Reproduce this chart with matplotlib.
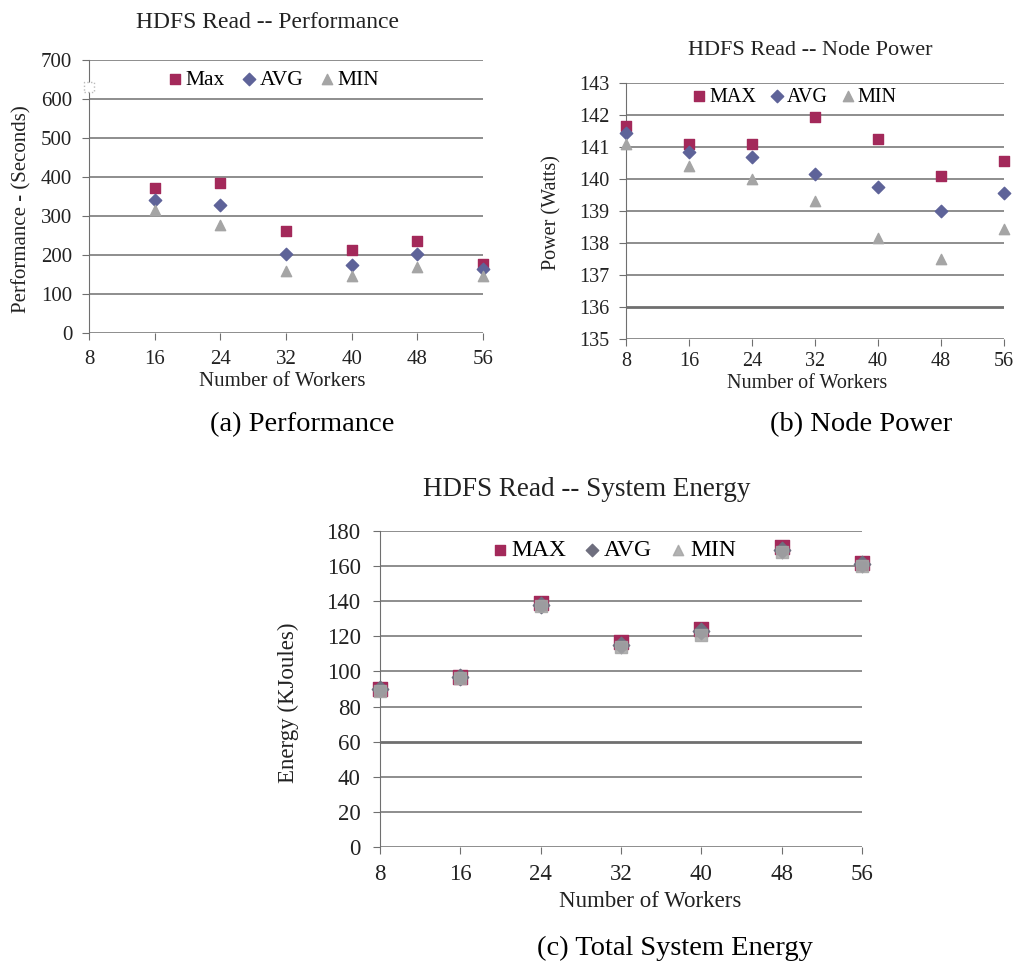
import matplotlib.pyplot as plt

plt.rcParams['font.family'] = ['Liberation Serif', 'DejaVu Serif']

workers = [8, 16, 24, 32, 40, 48, 56]

perf_max = [630, 372, 385, 262, 213, 236, 178]
perf_avg = [630, 340, 327, 203, 175, 203, 165]
perf_min = [630, 315, 278, 160, 145, 170, 145]

power_max = [141.65, 141.1, 141.1, 141.95, 141.25, 140.1, 140.55]
power_avg = [141.45, 140.85, 140.7, 140.15, 139.75, 139.0, 139.55]
power_min = [141.1, 140.4, 140.0, 139.3, 138.15, 137.5, 138.45]

energy_max = [90, 97, 139, 117, 124, 171, 162]
energy_avg = [90, 97, 138, 115, 123, 169, 161]
energy_min = [89, 96, 137, 114, 121, 168, 160]

W, H = 1015, 971
RED = '#A3295A'
BLUE = '#5E6399'
GRAY = '#A5A5A5'
GRID = '#6F6F6F'
TXT = '#222222'

fig = plt.figure(figsize=(W / 100, H / 100), dpi=100)


def make_axes(l, r, t, b):
    return fig.add_axes([l / W, 1 - b / H, (r - l) / W, (b - t) / H])


def style(ax, ylim, yticks, fs, ylabel, ypad, xpad):
    ax.set_xlim(8, 56)
    ax.set_ylim(*ylim)
    ax.set_xticks(workers)
    ax.set_yticks(yticks)
    for s in ['top', 'right', 'bottom']:
        ax.spines[s].set_visible(False)
    ax.spines['left'].set_color(GRID)
    ax.yaxis.grid(True, color=GRID, linewidth=1.1)
    ax.set_axisbelow(True)
    ax.tick_params(axis='both', colors=GRID, labelcolor=TXT, labelsize=fs, length=5)
    ax.tick_params(axis='y', pad=ypad)
    ax.tick_params(axis='x', pad=xpad)
    ax.set_xlabel('Number of Workers', fontsize=fs, color=TXT, va='center')
    ax.set_ylabel(ylabel, fontsize=fs, color=TXT, va='center')


def place(ax, xl, yl, leg_labels, lfs, leg_xy, colsp):
    ax.xaxis.set_label_coords(*xl)
    ax.yaxis.set_label_coords(*yl)
    return ax.legend(leg_labels, loc='center', ncol=3, frameon=False, fontsize=lfs,
                     handletextpad=0.0, columnspacing=colsp, handlelength=1.0,
                     bbox_to_anchor=leg_xy)


# (a) Performance
ax1 = make_axes(89, 483, 60, 333)
ax1.scatter(workers[1:], perf_max[1:], marker='s', s=55, color=RED, zorder=3, clip_on=False)
ax1.scatter(workers[1:], perf_avg[1:], marker='D', s=40, color=BLUE, zorder=3, clip_on=False)
ax1.scatter(workers[1:], perf_min[1:], marker='^', s=55, color=GRAY, zorder=3, clip_on=False)
ax1.scatter([workers[0]], [perf_max[0]], marker='s', s=55, facecolor='white',
            edgecolor='#BBBBBB', linestyle=':', zorder=3, clip_on=False)
style(ax1, (0, 700), range(0, 701, 100), 15, 'Performance - (Seconds)', 7, 7)
place(ax1, (0.49, -0.179), (-0.170, 0.454), ['Max', 'AVG', 'MIN'], 15.5, (0.464, 0.927), 0.6)

# (b) Node Power
ax2 = make_axes(626, 1004, 83, 339)
ax2.scatter(workers, power_max, marker='s', s=55, color=RED, zorder=3, clip_on=False)
ax2.scatter(workers, power_avg, marker='D', s=40, color=BLUE, zorder=3, clip_on=False)
ax2.scatter(workers, power_min, marker='^', s=55, color=GRAY, zorder=3, clip_on=False)
style(ax2, (135, 143), range(135, 144), 14.5, 'Power (Watts)', 7, 4.5)
place(ax2, (0.479, -0.172), (-0.196, 0.492), ['MAX', 'AVG', 'MIN'], 14.5, (0.442, 0.945), 0.5)
ax2.get_ygridlines()[1].set_linewidth(2)

# (c) System Energy
ax3 = make_axes(380, 862, 531, 847)
ax3.scatter(workers, energy_max, marker='s', s=95, color=RED, zorder=3, clip_on=False)
ax3.scatter(workers, energy_avg, marker='D', s=70, color='#6E6E7E', zorder=3, clip_on=False)
ax3.scatter(workers, energy_min, marker='s', s=80, color=GRAY, alpha=0.85, zorder=3, clip_on=False)
style(ax3, (0, 180), range(0, 181, 20), 16.5, 'Energy (KJoules)', 9, 7)
leg = place(ax3, (0.56, -0.174), (-0.189, 0.456), ['MAX', 'AVG', 'MIN'], 17, (0.481, 0.94), 0.6)
leg.legend_handles[0].set_sizes([55])
leg.legend_handles[1].set_sizes([40])
leg.legend_handles[2].set_paths(ax2.collections[2].get_paths())
leg.legend_handles[2].set_sizes([55])
ax3.get_ygridlines()[3].set_linewidth(2)

# titles
fig.text(267 / W, 1 - 22 / H, 'HDFS Read -- Performance', ha='center', va='center', fontsize=17, color=TXT)
fig.text(810 / W, 1 - 50 / H, 'HDFS Read -- Node Power', ha='center', va='center', fontsize=16, color=TXT)
fig.text(587 / W, 1 - 490 / H, 'HDFS Read -- System Energy', ha='center', va='center', fontsize=19.5, color=TXT)

# captions
fig.text(302 / W, 1 - 425 / H, '(a) Performance', ha='center', va='center', fontsize=20.5)
fig.text(861 / W, 1 - 425 / H, '(b) Node Power', ha='center', va='center', fontsize=20.5)
fig.text(675 / W, 1 - 948 / H, '(c) Total System Energy', ha='center', va='center', fontsize=20.5)

fig.savefig('out.png', dpi=100, facecolor='white')
